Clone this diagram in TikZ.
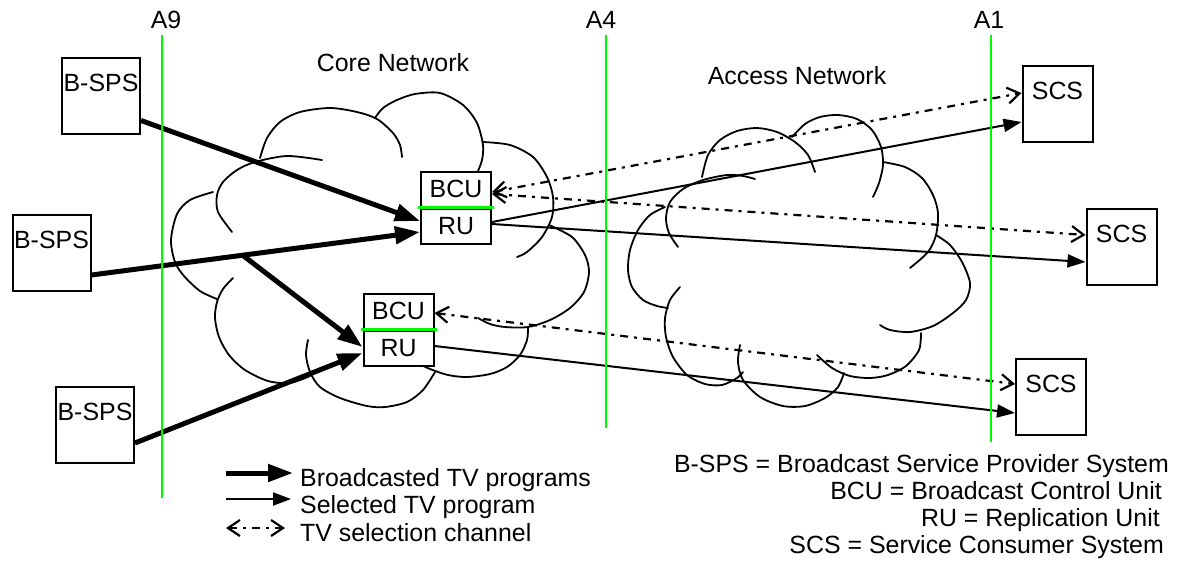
\documentclass[tikz,border=0pt]{standalone}
\usepackage{fontspec}
\setmainfont{Liberation Sans}
\usepackage{tikz}
\usetikzlibrary{arrows.meta,positioning}
\definecolor{refgreen}{RGB}{0,250,0}
\tikzset{
  sys box/.style={draw, line width=2pt, fill=white, text height=34pt, text depth=42pt, minimum width=#1},
  sys box/.default=78pt,
  unit box/.style={draw, line width=2pt, fill=white, minimum width=70pt, minimum height=35pt},
  cloud line/.style={line width=1.8pt, line join=round, line cap=round},
  ref line/.style={refgreen, line width=2.4pt},
  tv arrow/.style={line width=5pt, -{Triangle[length=25pt,width=17pt]}},
  prog arrow/.style={line width=2pt, -{Triangle[length=18pt,width=13pt]}},
  sel arrow/.style={line width=2.2pt, dash pattern=on 8pt off 6pt on 3pt off 6pt,
    {Straight Barb[length=12pt,width=16pt]}-{Straight Barb[length=12pt,width=16pt]}},
}

\begin{document}
\begin{tikzpicture}[x=1pt, y=-1pt, inner sep=0pt, font=\fontsize{24.9pt}{30pt}\selectfont]
  \useasboundingbox (0,0) rectangle (1178,560);

  % Core cloud
  \draw[cloud line] plot[smooth] coordinates {(213,192) (190,200) (177,214) (171,240) (175,262) (184,276) (200,291) (217,299)};
  \draw[cloud line] plot[smooth] coordinates {(232,232) (218,212) (217,195) (223,182) (237,170) (255,162) (287,156) (322,160)};
  \draw[cloud line] plot[smooth] coordinates {(260,158) (267,138) (280,122) (300,112) (330,108) (357,112) (377,119) (393,133) (400,145) (402,157)};
  \draw[cloud line] plot[smooth] coordinates {(375,118) (383,108) (397,100) (415,94) (440,93) (463,105) (477,123) (483,145) (482,160) (478,171)};
  \draw[cloud line] plot[smooth] coordinates {(483,142) (510,145) (533,157) (547,177) (553,197) (552,217) (542,237) (527,252) (517,257)};
  \draw[cloud line] plot[smooth] coordinates {(549,225) (572,237) (585,255) (589,272) (584,292) (570,308) (550,320) (528,327) (505,327) (490,324) (478,318)};
  \draw[cloud line] plot[smooth] coordinates {(528,328) (527,340) (520,355) (507,367) (490,374) (467,377) (448,375) (430,369) (417,363)};
  \draw[cloud line] plot[smooth] coordinates {(308,340) (306,355) (310,372) (320,387) (340,398) (367,406) (385,407) (407,402) (423,390) (435,372)};
  \draw[cloud line] plot[smooth] coordinates {(233,278) (223,289) (217,302) (215,318) (219,337) (229,355) (245,370) (268,381) (290,383) (310,376)};

  % Access cloud
  \draw[cloud line] plot[smooth] coordinates {(678,247) (669,233) (666,218) (670,202) (683,189) (703,180) (727,175) (743,176) (755,179)};
  \draw[cloud line] plot[smooth] coordinates {(702,177) (708,155) (720,140) (737,131) (757,128) (777,132) (795,142) (808,155) (815,172)};
  \draw[cloud line] plot[smooth] coordinates {(792,137) (805,124) (820,117) (838,115) (857,119) (872,130) (881,147) (883,165) (879,183) (873,197)};
  \draw[cloud line] plot[smooth] coordinates {(883,162) (905,167) (922,178) (933,195) (938,213) (936,235) (928,252) (910,268)};
  \draw[cloud line] plot[smooth] coordinates {(936,235) (950,245) (962,262) (970,283) (966,300) (953,313) (933,326) (910,332) (890,330) (880,325)};
  \draw[cloud line] plot[smooth] coordinates {(921,333) (919,350) (906,366) (888,375) (870,378) (850,376) (832,368) (817,355)};
  \draw[cloud line] plot[smooth] coordinates {(740,345) (738,362) (743,380) (760,397) (783,406) (805,406) (825,398) (838,387) (844,373)};
  \draw[cloud line] plot[smooth] coordinates {(680,287) (670,300) (665,318) (666,337) (673,357) (687,375) (705,384) (722,385) (737,378) (743,372)};
  \draw[cloud line] plot[smooth] coordinates {(665,207) (650,215) (638,230) (630,250) (628,270) (632,287) (643,300) (657,306) (668,308)};

  % Labels
  \node (a9) at (166,20) {A9};
  \node (a4) at (601,20) {A4};
  \node (a1) at (989,20) {A1};
  \node (core) at (393,63) {Core Network};
  \node (access) at (797,76) {Access Network};

  % Systems
  \node[sys box] (sps1) at (101,95.5) {B-SPS};
  \node[sys box] (sps2) at (51.5,252.5) {B-SPS};
  \node[sys box] (sps3) at (95,424.5) {B-SPS};
  \node[sys box=70pt] (scs1) at (1057.5,103.5) {SCS};
  \node[sys box=70pt] (scs2) at (1121.5,246.5) {SCS};
  \node[sys box=70pt] (scs3) at (1051,396.5) {SCS};

  % Units
  \node[unit box] (bcu1) at (456,189) {BCU};
  \node[unit box, below=0pt of bcu1] (ru1) {RU};
  \node[unit box] (bcu2) at (398.5,311) {BCU};
  \node[unit box, below=0pt of bcu2] (ru2) {RU};
  \draw[ref line] ([xshift=-2pt]bcu1.south west) -- ([xshift=2pt]bcu1.south east);
  \draw[ref line] ([xshift=-2pt]bcu2.south west) -- ([xshift=2pt]bcu2.south east);

  % Broadcasted programs
  \draw[tv arrow] ([yshift=-25pt]sps1.east) -- ([yshift=5pt]ru1.west);
  \draw[tv arrow] ([yshift=-22.5pt]sps2.east) -- coordinate[pos=0.46] (split) ([yshift=-6pt]ru1.west);
  \draw[tv arrow] (split) -- ([yshift=1pt]ru2.west);
  \draw[tv arrow] ([yshift=-18.5pt]sps3.east) -- ([yshift=-5pt]ru2.west);

  % Selected programs
  \draw[prog arrow] ([yshift=4pt]ru1.east) -- ([yshift=-18.5pt]scs1.west);
  \draw[prog arrow] ([yshift=2pt]ru1.east) -- ([yshift=-15.5pt]scs2.west);
  \draw[prog arrow] ([yshift=2pt]ru2.east) -- ([yshift=-16.5pt]scs3.west);

  % Selection channel
  \draw[sel arrow] ([yshift=-3pt]bcu1.east) -- ([yshift=10.5pt]scs1.west);
  \draw[sel arrow] ([yshift=-5pt]bcu1.east) -- ([yshift=11.5pt]scs2.west);
  \draw[sel arrow] ([yshift=-2pt]bcu2.east) -- ([yshift=12.5pt]scs3.west);

  % Reference points
  \draw[ref line] (162,35) -- (162,498);
  \draw[ref line] (606,35) -- (606,428);
  \draw[ref line] (991,35) -- (991,442);

  % Legend
  \coordinate (key1) at (226,473);
  \coordinate (key1e) at (293,473);
  \coordinate (key2) at (226,499);
  \coordinate (key2e) at (291,499);
  \coordinate (key3) at (226,528);
  \coordinate (key3e) at (285,528);
  \draw[tv arrow] (key1) -- (key1e);
  \draw[prog arrow] (key2) -- (key2e);
  \draw[sel arrow] (key3) -- (key3e);
  \node[anchor=base west] (ltv) at (300,486) {Broadcasted TV programs};
  \node[anchor=base west] (lsel) at (300,513) {Selected TV program};
  \node[anchor=base west] (lchan) at (300,541) {TV selection channel};

  % Abbreviations
  \node[anchor=base east] (dsps) at (1169,472) {B-SPS = Broadcast Service Provider System};
  \node[anchor=base east] (dbcu) at (1162,499) {BCU = Broadcast Control Unit};
  \node[anchor=base east] (dru) at (1160,526) {RU = Replication Unit};
  \node[anchor=base east] (dscs) at (1164,553) {SCS = Service Consumer System};
\end{tikzpicture}
\end{document}
